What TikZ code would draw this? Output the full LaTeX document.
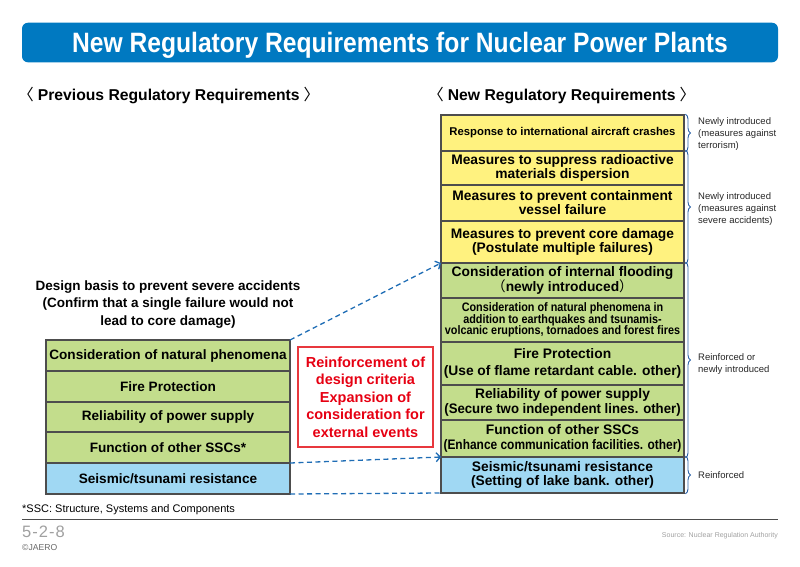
\documentclass[tikz,border=0pt]{standalone}
\usepackage{fontspec}
\usepackage{graphicx}
\setmainfont{Liberation Sans}
\newfontfamily\condfont[FakeStretch=0.88]{Liberation Sans}
\newfontfamily\cjk{Noto Sans CJK JP}
\usetikzlibrary{arrows.meta,decorations.pathreplacing}
\definecolor{titleblue}{HTML}{0079C1}
\definecolor{rowyellow}{HTML}{FFF27F}
\definecolor{rowgreen}{HTML}{C3DD8C}
\definecolor{rowblue}{HTML}{A0D8F3}
\definecolor{rowborder}{HTML}{4D4D4D}
\definecolor{redtext}{HTML}{E60012}
\definecolor{redframe}{HTML}{E8383D}
\definecolor{dashblue}{HTML}{1F6DB5}
\definecolor{braceblue}{HTML}{2B62A8}
\definecolor{footgray}{HTML}{A0A0A0}
\newcommand{\hsq}[2]{\scalebox{#1}[1]{#2}}
\tikzset{
  row/.style={draw=rowborder,line width=1.2pt,inner sep=0pt,outer sep=0pt,align=center,
    font=\bfseries\fontsize{13.8}{14.5}\selectfont},
  lrow/.style={row,minimum width=244pt,font=\bfseries\fontsize{13.6}{14.5}\selectfont},
  rrow/.style={row,minimum width=243pt},
  dasharrow/.style={draw=dashblue,line width=1.3pt,dash pattern=on 5pt off 3.5pt},
  bracestyle/.style={draw=braceblue,line width=0.9pt,decorate,decoration={brace,amplitude=5pt,aspect=0.5}},
  note/.style={anchor=west,align=left,inner sep=0pt,font=\fontsize{9.5}{12}\selectfont,text=black!85},
  header/.style={anchor=base west,inner sep=0pt,font=\bfseries\fontsize{15.7}{16}\selectfont},
}
\begin{document}
\begin{tikzpicture}[x=1pt,y=-1pt]
\useasboundingbox (0,0) rectangle (800,566);
% title bar
\fill[titleblue,rounded corners=6pt] (22,22.7) rectangle (778,62.3);
\node[anchor=base,inner sep=0pt,text=white,font=\condfont\bfseries\fontsize{28}{28}\selectfont] (title) at (400,52.7) {New Regulatory Requirements for Nuclear Power Plants};
% headers
\node[header] (hleft) at (18,100.5) {{\cjk\mdseries 〈}\hspace{4pt}Previous Regulatory Requirements\hspace{4pt}{\cjk\mdseries 〉}};
\node[header] (hright) at (428,100.5) {{\cjk\mdseries 〈}\hspace{4pt}New Regulatory Requirements\hspace{4pt}{\cjk\mdseries 〉}};
% left label
\node[align=center,inner sep=0pt,font=\bfseries\fontsize{13.5}{17.5}\selectfont] (dlabel) at (168,304.5) {Design basis to prevent severe accidents\\(Confirm that a single failure would not\\lead to core damage)};
% left stack
\node[lrow,fill=rowgreen,minimum height=31pt] (l1) at (168,355.5) {Consideration of natural phenomena};
\node[lrow,fill=rowgreen,minimum height=31pt] (l2) at (168,386.5) {Fire Protection};
\node[lrow,fill=rowgreen,minimum height=30pt] (l3) at (168,417) {Reliability of power supply};
\node[lrow,fill=rowgreen,minimum height=31pt] (l4) at (168,447.5) {Function of other SSCs*};
\node[lrow,fill=rowblue,minimum height=31pt] (l5) at (168,478.5) {Seismic/tsunami resistance};
% red box
\node[draw=redframe,line width=1.2pt,minimum width=135pt,minimum height=100pt,inner sep=0pt,align=center,text=redtext,font=\bfseries\fontsize{14.5}{17.5}\selectfont] (red) at (365.5,397) {Reinforcement of\\design criteria\\Expansion of\\consideration for\\external events};
% right stack
\node[rrow,fill=rowyellow,minimum height=36pt,font=\bfseries\fontsize{11.3}{13}\selectfont] (r1) at (562.5,133) {Response to international aircraft crashes};
\node[rrow,fill=rowyellow,minimum height=34pt,font=\bfseries\fontsize{13.8}{14}\selectfont] (r2) at (562.5,168) {Measures to suppress radioactive\\materials dispersion};
\node[rrow,fill=rowyellow,minimum height=36pt,font=\bfseries\fontsize{13.8}{14}\selectfont] (r3) at (562.5,203) {Measures to prevent containment\\vessel failure};
\node[rrow,fill=rowyellow,minimum height=42pt,font=\bfseries\fontsize{13.8}{13.5}\selectfont] (r4) at (562.5,242) {Measures to prevent core damage\\(Postulate multiple failures)};
\node[rrow,fill=rowgreen,minimum height=35pt] (r5) at (562.5,280.5) {Consideration of internal flooding\\{\cjk\mdseries （}newly introduced{\cjk\mdseries ）}};
\node[rrow,fill=rowgreen,minimum height=44pt,font=\condfont\bfseries\fontsize{12.3}{11.5}\selectfont] (r6) at (562.5,320) {Consideration of natural phenomena in\\addition to earthquakes and tsunamis-\\volcanic eruptions, tornadoes and forest fires};
\node[rrow,fill=rowgreen,minimum height=43pt,font=\bfseries\fontsize{13.8}{16.5}\selectfont] (r7) at (562.5,363.5) {Fire Protection\\(Use of flame retardant cable. other)};
\node[rrow,fill=rowgreen,minimum height=35pt] (r8) at (562.5,402.5) {Reliability of power supply\\\hsq{0.955}{(Secure two independent lines. other)}};
\node[rrow,fill=rowgreen,minimum height=37pt] (r9) at (562.5,438.5) {Function of other SSCs\\\hsq{0.865}{(Enhance communication facilities. other)}};
\node[rrow,fill=rowblue,minimum height=36pt] (r10) at (562.5,475) {Seismic/tsunami resistance\\(Setting of lake bank. other)};
% dashed connectors
\draw[dasharrow,-{Straight Barb[length=4pt,width=9pt]}] (l1.north east) -- (r5.north west);
\draw[dasharrow,-{Straight Barb[length=4pt,width=9pt]}] (l4.south east) -- (r9.south west);
\draw[dasharrow] (l5.south east) -- (r10.south west);
% braces
\draw[bracestyle] ([xshift=1.5pt,yshift=0.8pt]r1.north east) -- ([xshift=1.5pt,yshift=-0.8pt]r1.south east);
\draw[bracestyle] ([xshift=1.5pt,yshift=0.8pt]r2.north east) -- ([xshift=1.5pt,yshift=-0.8pt]r4.south east);
\draw[bracestyle] ([xshift=1.5pt,yshift=0.8pt]r5.north east) -- ([xshift=1.5pt,yshift=-0.8pt]r9.south east);
\draw[bracestyle] ([xshift=1.5pt,yshift=0.8pt]r10.north east) -- ([xshift=1.5pt,yshift=-0.8pt]r10.south east);
% notes
\node[note] (n1) at (698,134) {Newly introduced\\(measures against\\terrorism)};
\node[note] (n2) at (698,209) {Newly introduced\\(measures against\\severe accidents)};
\node[note] (n3) at (698,364) {Reinforced or\\newly introduced};
\node[note] (n4) at (698,475) {Reinforced};
% footer
\node[anchor=west,inner sep=0pt,font=\fontsize{11}{12}\selectfont] (foot) at (22,510) {*SSC: Structure, Systems and Components};
\coordinate (ruleL) at (22,519.3);
\coordinate (ruleR) at (778,519.3);
\draw[line width=1.2pt,draw=black!70] (ruleL) -- (ruleR);
\node[anchor=west,inner sep=0pt,text=footgray,font=\fontsize{16.5}{17}\selectfont] (page) at (22,532) {5\hspace{1pt}-\hspace{1pt}2\hspace{1pt}-\hspace{1pt}8};
\node[anchor=west,inner sep=0pt,text=black!60,font=\fontsize{8.6}{9}\selectfont] (copy) at (22,548) {©JAERO};
\node[anchor=east,inner sep=0pt,text=footgray,font=\fontsize{7}{8}\selectfont] (src) at (778,536) {Source: Nuclear Regulation Authority};
\end{tikzpicture}
\end{document}
